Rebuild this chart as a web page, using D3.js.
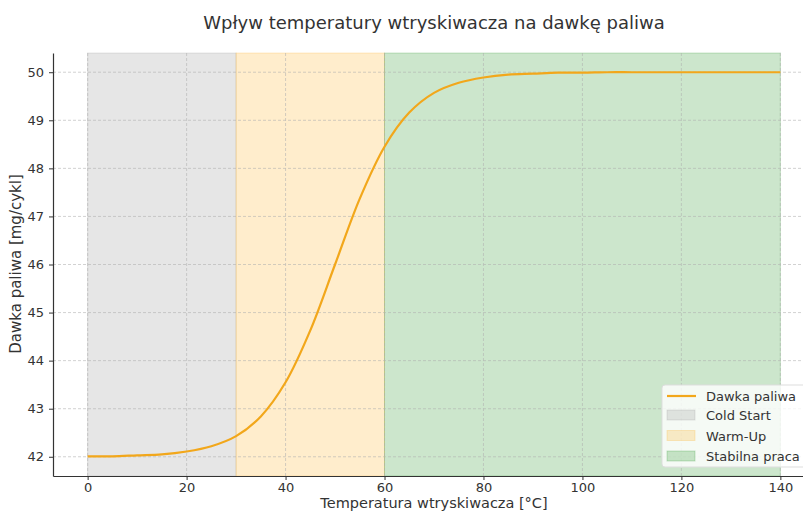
<!DOCTYPE html>
<html>
<head>
<meta charset="utf-8">
<script src="https://cdn.jsdelivr.net/npm/d3@7"></script>
<style>
	body { margin: 0; background: #fff; }
	svg { display: block; font-family: "DejaVu Sans", sans-serif; }
</style>
</head>
<body>
<svg width="803" height="513"></svg>
<script>
// values
const temps = [0, 5, 10, 15, 20, 25, 30, 35, 40, 45, 50, 55, 60, 65, 70, 75, 80, 85, 90, 95, 100, 105, 110, 115, 120, 125, 130, 135, 140]
const dose = [42.01, 42.01, 42.03, 42.05, 42.11, 42.22, 42.43, 42.84, 43.55, 44.63, 46.0, 47.37, 48.45, 49.16, 49.57, 49.78, 49.89, 49.95, 49.97, 49.99, 49.99, 50.0, 50.0, 50.0, 50.0, 50.0, 50.0, 50.0, 50.0]
const zoneNames = ['Cold Start', 'Warm-Up', 'Stabilna praca']
const zoneStart = [0, 30, 60]
const zoneEnd = [30, 60, 140]
const zoneColors = ['#808080', '#ffa500', '#008000']
const xTicks = [0, 20, 40, 60, 80, 100, 120, 140]
const yTicks = [42, 43, 44, 45, 46, 47, 48, 49, 50]
const lineColor = '#f2a71b'

const svg = d3.select('svg')
const margin = { left: 53, top: 53, right: 815, bottom: 476 }

let xScale = d3.scaleLinear().domain([-7, 147]).range([margin.left, margin.right])
let yScale = d3.scaleLinear().domain([41.6, 50.4]).range([margin.bottom, margin.top])

// zones
svg.append('g').selectAll('rect')
	.data(zoneNames)
	.enter()
	.append('rect')
	.attr('x', (d, i) => xScale(zoneStart[i]))
	.attr('width', (d, i) => xScale(zoneEnd[i]) - xScale(zoneStart[i]))
	.attr('y', margin.top)
	.attr('height', margin.bottom - margin.top)
	.attr('fill', (d, i) => zoneColors[i])
	.attr('fill-opacity', 0.2)
	.attr('stroke', (d, i) => zoneColors[i])
	.attr('stroke-opacity', 0.2)

// grid
let grid = svg.append('g').attr('stroke', '#b0b0b0').attr('stroke-dasharray', '3,2').attr('stroke-width', 0.8).attr('opacity', 0.7)
grid.selectAll('.gx').data(xTicks).enter().append('line')
	.attr('x1', d => xScale(d)).attr('x2', d => xScale(d))
	.attr('y1', margin.top).attr('y2', margin.bottom)
grid.selectAll('.gy').data(yTicks).enter().append('line')
	.attr('y1', d => yScale(d)).attr('y2', d => yScale(d))
	.attr('x1', margin.left).attr('x2', margin.right)

// curve
let line = d3.line()
	.x((d, i) => xScale(temps[i]))
	.y(d => yScale(d))
	.curve(d3.curveCatmullRom)
svg.append('path')
	.attr('d', line(dose))
	.attr('fill', 'none')
	.attr('stroke', lineColor)
	.attr('stroke-width', 2.2)

// axes
let bottomAxisG = svg.append('g').attr('transform', `translate(0, ${margin.bottom})`)
bottomAxisG.call(d3.axisBottom(xScale).tickValues(xTicks).tickSize(4).tickPadding(3).tickSizeOuter(0))
let leftAxisG = svg.append('g').attr('transform', `translate(${margin.left}, 0)`)
leftAxisG.call(d3.axisLeft(yScale).tickValues(yTicks).tickSize(4).tickPadding(5).tickSizeOuter(0))
svg.selectAll('.domain').attr('stroke', '#333').attr('stroke-width', 1.2)
svg.selectAll('.tick line').attr('stroke', '#333')
svg.selectAll('.tick text').attr('font-size', 13).attr('fill', '#333').attr('font-family', '"DejaVu Sans", sans-serif')

// titles
svg.append('text').attr('x', 434).attr('y', 29).attr('text-anchor', 'middle')
	.attr('font-size', 18).attr('fill', '#333').text('Wpływ temperatury wtryskiwacza na dawkę paliwa')
svg.append('text').attr('x', 434).attr('y', 508).attr('text-anchor', 'middle')
	.attr('font-size', 14.5).attr('fill', '#333').text('Temperatura wtryskiwacza [°C]')
svg.append('text').attr('transform', 'translate(21, 264) rotate(-90)').attr('text-anchor', 'middle')
	.attr('font-size', 15).attr('fill', '#333').text('Dawka paliwa [mg/cykl]')

// legend
let legend = svg.append('g').attr('transform', 'translate(662, 385)')
legend.append('rect').attr('width', 165).attr('height', 82).attr('rx', 3)
	.attr('fill', 'white').attr('fill-opacity', 0.8).attr('stroke', '#ddd')
legend.append('line').attr('x1', 5).attr('x2', 34).attr('y1', 11).attr('y2', 11)
	.attr('stroke', lineColor).attr('stroke-width', 2.2)
legend.append('text').attr('x', 44).attr('y', 16).attr('font-size', 13).attr('fill', '#333').text('Dawka paliwa')
legend.selectAll('.patch').data(zoneNames).enter().append('rect')
	.attr('x', 5).attr('y', (d, i) => 25 + i * 20.5).attr('width', 28).attr('height', 10)
	.attr('fill', (d, i) => zoneColors[i]).attr('fill-opacity', 0.2)
	.attr('stroke', (d, i) => zoneColors[i]).attr('stroke-opacity', 0.2)
legend.selectAll('.lab').data(zoneNames).enter().append('text')
	.attr('x', 44).attr('y', (d, i) => 35 + i * 20.5)
	.attr('font-size', 13).attr('fill', '#333').text(d => d)
</script>
</body>
</html>
